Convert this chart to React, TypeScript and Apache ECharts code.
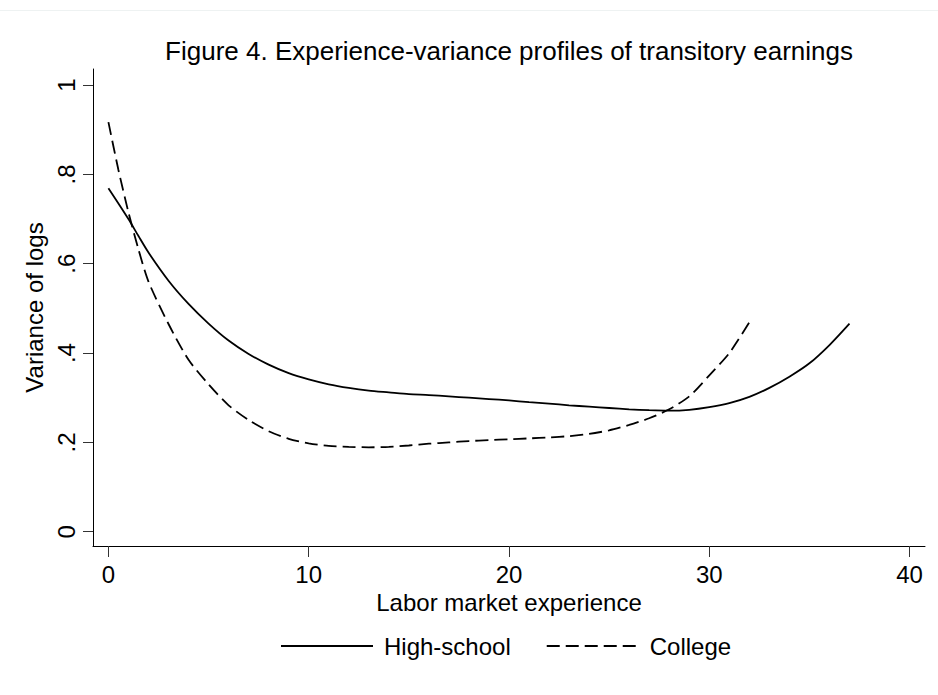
import React, { useEffect, useRef } from 'react';
import * as echarts from 'echarts';

const titleText = 'Figure 4. Experience-variance profiles of transitory earnings';
const xAxisName = 'Labor market experience';
const yAxisName = 'Variance of logs';
const seriesNames = ['High-school', 'College'];

const hsExperience = [0, 0.5, 1, 1.5, 2, 3, 4, 5, 6, 7, 8, 9, 10, 11, 12, 13, 14, 15, 16, 17, 18, 19, 20, 21, 22, 23, 24, 25, 26, 27, 28, 29, 30, 31, 32, 33, 34, 35, 36, 37];
const hsVariance = [0.769, 0.735, 0.7, 0.662, 0.625, 0.562, 0.51, 0.466, 0.428, 0.398, 0.374, 0.355, 0.341, 0.33, 0.322, 0.316, 0.312, 0.308, 0.306, 0.303, 0.3, 0.297, 0.294, 0.29, 0.287, 0.283, 0.28, 0.277, 0.274, 0.272, 0.271, 0.273, 0.279, 0.288, 0.302, 0.322, 0.347, 0.377, 0.418, 0.466];

const colExperience = [0, 0.5, 1, 1.5, 2, 3, 4, 5, 6, 7, 8, 9, 10, 11, 12, 13, 14, 15, 16, 17, 18, 19, 20, 21, 22, 23, 24, 25, 26, 27, 28, 29, 30, 31, 32];
const colVariance = [0.917, 0.81, 0.715, 0.632, 0.56, 0.465, 0.385, 0.33, 0.283, 0.25, 0.225, 0.208, 0.198, 0.192, 0.19, 0.189, 0.19, 0.193, 0.197, 0.2, 0.203, 0.205, 0.207, 0.209, 0.211, 0.214, 0.219, 0.227, 0.239, 0.254, 0.274, 0.303, 0.35, 0.4, 0.469];

const xTicks = [0, 10, 20, 30, 40];
const yTicks = [0, 0.2, 0.4, 0.6, 0.8, 1];
const yTickLabels = ['0', '.2', '.4', '.6', '.8', '1'];

const FONT = '"Liberation Sans", Arial, Helvetica, sans-serif';

export default function App() {
  const ref = useRef<HTMLDivElement>(null);
  useEffect(() => {
    if (!ref.current) return;
    const chart = echarts.init(ref.current, null, { renderer: 'svg' });
    const pair = (xs: number[], ys: number[]) => xs.map((x, i) => [x, ys[i]]);
    chart.setOption({
      animation: false,
      backgroundColor: '#ffffff',
      title: {
        text: titleText,
        left: 509,
        top: 38,
        textAlign: 'center',
        padding: 0,
        textStyle: { fontSize: 26, fontWeight: 'normal', fontFamily: FONT, color: '#000' },
      },
      graphic: [
        {
          type: 'line',
          shape: { x1: 0, y1: 10.5, x2: 938, y2: 10.5 },
          style: { stroke: '#eef2f2', lineWidth: 1 },
          silent: true,
        },
      ],
      legend: {
        left: 280,
        top: 634,
        padding: 0,
        itemWidth: 92,
        itemHeight: 24,
        itemGap: 35,
        itemStyle: { color: 'rgba(0,0,0,0)', borderWidth: 0, opacity: 0 },
        textStyle: { fontSize: 24, fontFamily: FONT, color: '#000', padding: [0, 0, 0, 6] },
        data: seriesNames,
      },
      grid: { left: 93, right: 13, top: 69, bottom: 149, containLabel: false },
      xAxis: {
        type: 'value',
        min: -0.77,
        max: 40.77,
        name: xAxisName,
        nameLocation: 'middle',
        nameGap: 40,
        nameTextStyle: { fontSize: 24, fontFamily: FONT, color: '#000' },
        axisLine: { onZero: false, lineStyle: { color: '#000', width: 1 } },
        axisTick: { show: true, length: 11, customValues: xTicks, lineStyle: { color: '#333', width: 1 } },
        axisLabel: {
          customValues: xTicks,
          fontSize: 24,
          fontFamily: FONT,
          color: '#000',
          margin: 16,
          showMinLabel: true,
          showMaxLabel: true,
        },
        splitLine: { show: false },
      },
      yAxis: {
        type: 'value',
        min: -0.032,
        max: 1.036,
        name: yAxisName,
        nameLocation: 'middle',
        nameRotate: 90,
        nameGap: 38,
        nameTextStyle: { fontSize: 24, fontFamily: FONT, color: '#000' },
        axisLine: { onZero: false, lineStyle: { color: '#000', width: 1 } },
        axisTick: { show: true, length: 10, customValues: yTicks, lineStyle: { color: '#333', width: 1 } },
        axisLabel: {
          customValues: yTicks,
          rotate: 90,
          fontSize: 24,
          fontFamily: FONT,
          color: '#000',
          margin: 15,
          formatter: (v: number) => {
            const i = yTicks.findIndex((t) => Math.abs(t - v) < 1e-9);
            return i >= 0 ? yTickLabels[i] : '';
          },
        },
        splitLine: { show: false },
      },
      series: [
        {
          name: seriesNames[0],
          type: 'line',
          data: pair(hsExperience, hsVariance),
          symbol: 'none',
          smooth: 0.25,
          lineStyle: { color: '#000', width: 1.8, type: 'solid' },
          itemStyle: { color: '#000' },
        },
        {
          name: seriesNames[1],
          type: 'line',
          data: pair(colExperience, colVariance),
          symbol: 'none',
          smooth: 0.25,
          lineStyle: { color: '#000', width: 1.8, type: [13, 6] },
          itemStyle: { color: '#000' },
        },
      ],
    });
    return () => chart.dispose();
  }, []);
  return (
    <div
      ref={ref}
      style={{ position: 'fixed', left: 0, top: 0, width: 938, height: 695, background: '#fff' }}
    />
  );
}
